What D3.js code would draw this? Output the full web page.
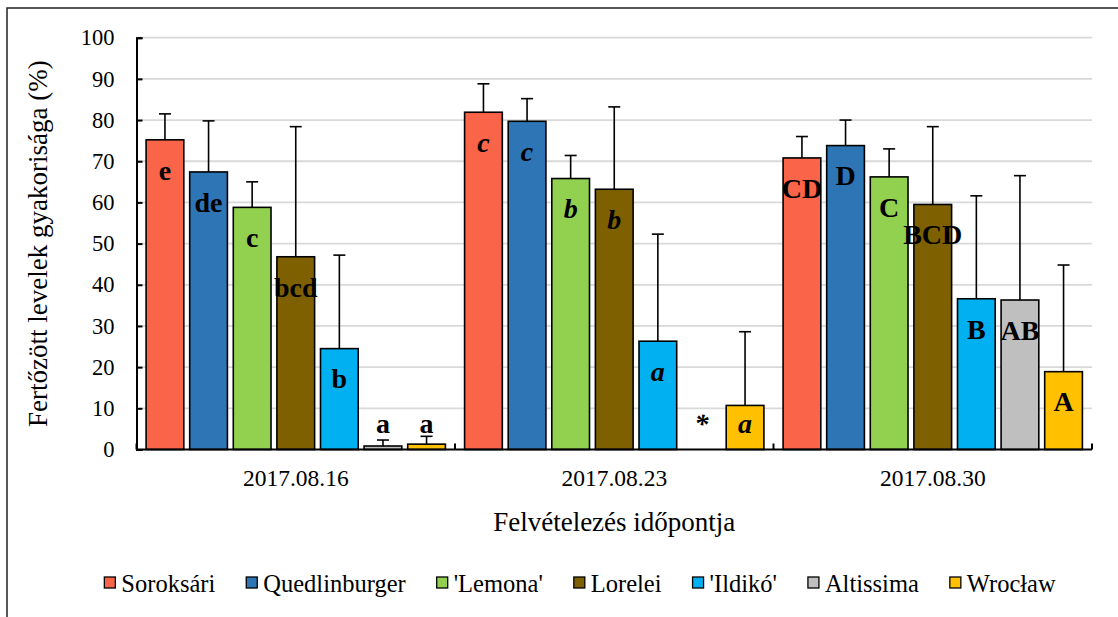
<!DOCTYPE html>
<html><head><meta charset="utf-8">
<script src="https://cdn.jsdelivr.net/npm/d3@7"></script>
<style>body{margin:0;background:#fff}svg{display:block}svg text{font-family:"Liberation Serif","Times New Roman",serif !important}</style>
</head><body><svg id="c" width="1118" height="617"></svg>
<script>
const categories = ["2017.08.16", "2017.08.23", "2017.08.30"];
const seriesNames = ["Soroksári", "Quedlinburger", "'Lemona'", "Lorelei", "'Ildikó'", "Altissima", "Wrocław"];
const seriesColors = ["#fa6449", "#2e75b6", "#92d050", "#7f6000", "#00b0f0", "#bfbfbf", "#ffc000"];
// mean values per series (one per date); null = no data
const soroksari     = [75.2, 81.9, 70.8];
const quedlinburger = [67.4, 79.7, 73.8];
const lemona        = [58.8, 65.8, 66.2];
const lorelei       = [46.8, 63.2, 59.5];
const ildiko        = [24.5, 26.3, 36.6];
const altissima     = [0.85, null, 36.3];
const wroclaw       = [1.3, 10.7, 18.9];
// standard deviations (upper error bar)
const sdSoroksari     = [6.3, 6.9, 5.2];
const sdQuedlinburger = [12.4, 5.5, 6.2];
const sdLemona        = [6.2, 5.6, 6.8];
const sdLorelei       = [31.6, 20.0, 18.9];
const sdIldiko        = [22.7, 26.0, 25.0];
const sdAltissima     = [1.45, null, 30.2];
const sdWroclaw       = [1.9, 17.9, 25.9];
// significance letters per date
const letters0816 = ["e", "de", "c", "bcd", "b", "a", "a"];
const letters0823 = ["c", "c", "b", "b", "a", "*", "a"];
const letters0830 = ["CD", "D", "C", "BCD", "B", "AB", "A"];
const yTicks = [0, 10, 20, 30, 40, 50, 60, 70, 80, 90, 100];
const yTitle = "Fertőzött levelek gyakorisága (%)";
const xTitle = "Felvételezés időpontja";

const values = [soroksari, quedlinburger, lemona, lorelei, ildiko, altissima, wroclaw];
const sds = [sdSoroksari, sdQuedlinburger, sdLemona, sdLorelei, sdIldiko, sdAltissima, sdWroclaw];
const letters = [letters0816, letters0823, letters0830];
const letterStyle = ["normal", "italic", "normal"];

const rows = [];
categories.forEach((c, ci) => seriesNames.forEach((s, si) => {
  rows.push({cat: c, ci, ser: s, si, v: values[si][ci], sd: sds[si][ci], lab: letters[ci][si]});
}));

const svg = d3.select("#c");
const L = 136.5, R = 1092, T = 37.7, B = 449.5;

svg.append("rect").attr("x", 7).attr("y", 8).attr("width", 1130).attr("height", 640)
  .attr("fill", "#fff").attr("stroke", "#222").attr("stroke-width", 1.5);

const y = d3.scaleLinear().domain([0, 100]).range([B, T]);
const x0 = d3.scaleBand().domain(categories).range([L, R]).padding(0);
const x1 = d3.scaleBand().domain(seriesNames).range([0, x0.bandwidth()]).paddingInner(0.135).paddingOuter(0.22);
const color = d3.scaleOrdinal().domain(seriesNames).range(seriesColors);

// gridlines
svg.append("g").selectAll("line").data(yTicks.filter(d => d > 0)).join("line")
  .attr("x1", L).attr("x2", R).attr("y1", d => y(d)).attr("y2", d => y(d))
  .attr("stroke", "#d9d9d9").attr("stroke-width", 1.8);

// y axis
const ya = svg.append("g").attr("transform", `translate(${L},0)`)
  .call(d3.axisLeft(y).tickValues(yTicks).tickSize(-6).tickPadding(22));
ya.attr("font-family", null);
ya.select(".domain").attr("stroke", "#000").attr("stroke-width", 2);
ya.selectAll(".tick line").attr("stroke", "#000").attr("stroke-width", 2);
ya.selectAll(".tick text").attr("font-size", 22.5).attr("fill", "#000");

// bars
const g = svg.append("g");
const valid = rows.filter(r => r.v != null);
g.selectAll("rect.bar").data(valid).join("rect").attr("class", "bar")
  .attr("x", d => x0(d.cat) + x1(d.ser)).attr("width", x1.bandwidth())
  .attr("y", d => y(d.v)).attr("height", d => y(0) - y(d.v))
  .attr("fill", d => color(d.ser)).attr("stroke", "#000").attr("stroke-width", 1.6);

// error bars
const eb = g.selectAll("g.eb").data(valid).join("g").attr("class", "eb")
  .attr("transform", d => `translate(${x0(d.cat) + x1(d.ser) + x1.bandwidth() / 2},0)`);
eb.append("line").attr("x1", 0).attr("x2", 0).attr("y1", d => y(d.v)).attr("y2", d => y(d.v + d.sd))
  .attr("stroke", "#000").attr("stroke-width", 1.6);
eb.append("line").attr("x1", -6).attr("x2", 6).attr("y1", d => y(d.v + d.sd)).attr("y2", d => y(d.v + d.sd))
  .attr("stroke", "#000").attr("stroke-width", 1.6);

// x axis
svg.append("line").attr("x1", L).attr("x2", R).attr("y1", B).attr("y2", B).attr("stroke", "#000").attr("stroke-width", 2);
const bounds = categories.map(c => x0(c)).concat([R]);
svg.append("g").selectAll("line").data(bounds).join("line")
  .attr("x1", d => d).attr("x2", d => d).attr("y1", B).attr("y2", B - 6).attr("stroke", "#000").attr("stroke-width", 2);
svg.append("g").selectAll("text").data(categories).join("text")
  .attr("x", d => x0(d) + x0.bandwidth() / 2).attr("y", 486)
  .attr("text-anchor", "middle").attr("font-size", 23.5).text(d => d);

// letter labels
g.selectAll("text.lab").data(rows).join("text").attr("class", "lab")
  .attr("x", d => x0(d.cat) + x1(d.ser) + x1.bandwidth() / 2)
  .attr("y", d => Math.min(y(d.v || 0) + 30, y(0) - 26.5))
  .attr("dy", "0.35em").attr("text-anchor", "middle")
  .attr("font-size", 28).attr("font-weight", "bold")
  .attr("font-style", d => letterStyle[d.ci]).text(d => d.lab);

// axis titles
svg.append("text").attr("transform", `translate(47,${(T + B) / 2}) rotate(-90)`)
  .attr("text-anchor", "middle").attr("font-size", 27).text(yTitle);
svg.append("text").attr("x", (L + R) / 2).attr("y", 531).attr("text-anchor", "middle")
  .attr("font-size", 27).text(xTitle);

// legend
const lg = svg.append("g");
const items = lg.selectAll("g").data(seriesNames).join("g");
items.append("rect").attr("width", 11).attr("height", 11).attr("y", -6)
  .attr("fill", d => color(d)).attr("stroke", "#000").attr("stroke-width", 1.3);
items.append("text").attr("x", 17).attr("y", 0).attr("dy", "0.35em").attr("font-size", 24.5).text(d => d);
const GAP = 31;
let cx = 0;
items.each(function () {
  d3.select(this).attr("transform", `translate(${cx},583)`);
  cx += 17 + this.querySelector("text").getComputedTextLength() + GAP;
});
const total = cx - GAP;
lg.attr("transform", `translate(${580 - total / 2},0)`);
</script></body></html>
